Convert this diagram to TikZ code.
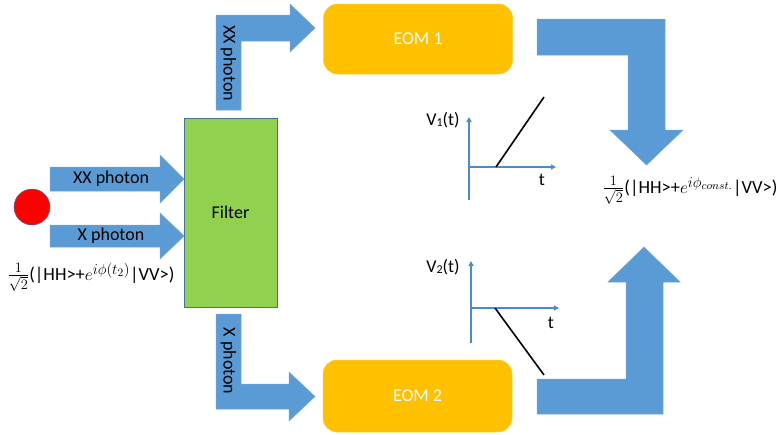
\documentclass[tikz,border=0pt]{standalone}
\usepackage{fontspec}
\setmainfont{Carlito}
\usetikzlibrary{arrows.meta}
\definecolor{arrowblue}{HTML}{5B9BD5}
\definecolor{edgeblue}{HTML}{6FA6DA}
\definecolor{axisblue}{HTML}{4A8BCB}
\definecolor{filtergreen}{HTML}{92D050}
\definecolor{eomorange}{HTML}{FFC000}
\definecolor{outline}{HTML}{41719C}
\newcommand{\supbig}[1]{\scalebox{1.25}{$\scriptstyle #1$}}
\newcommand{\fracbig}{\scalebox{1.2}{$\frac{1}{\sqrt{2}}$}}
\tikzset{
  blockarrow/.style={fill=arrowblue, draw=edgeblue, line width=0.5pt},
  eombox/.style={fill=eomorange, draw=eomorange!80!white, line width=0.5pt, rounded corners=14pt,
    minimum width=189pt, minimum height=70pt, text=white, font=\fontsize{18}{21}\selectfont},
  filterbox/.style={fill=filtergreen, draw=outline, line width=0.6pt, minimum width=93pt,
    minimum height=189pt, font=\fontsize{18}{21}\selectfont},
  lbl/.style={font=\fontsize{18}{21}\selectfont, inner sep=0pt},
  formula/.style={font=\fontsize{18.5}{22}\selectfont, inner sep=0pt},
  axis/.style={draw=axisblue, line width=1.4pt, -{Triangle[length=5pt,width=5pt]}},
  ramp/.style={draw=black, line width=1.6pt}
}
\begin{document}
\begin{tikzpicture}[x=1pt, y=-1pt]
\useasboundingbox (0,0) rectangle (776,434);

% source
\node[circle, fill=red, draw=outline, line width=0.5pt, minimum size=36pt, inner sep=0pt] (src) at (32,207) {};

% input arrows
\draw[blockarrow] (50,167) -- (160,167) -- (160,155) -- (184,179) -- (160,203) -- (160,191) -- (50,191) -- cycle;
\draw[blockarrow] (50,225) -- (160,225) -- (160,213) -- (184,236) -- (160,259) -- (160,247) -- (50,247) -- cycle;
\node[lbl] (xxin) at (111,179) {XX photon};
\node[lbl] (xin) at (111,236) {X photon};

% filter
\node[filterbox] (filter) at (230.5,212.5) {Filter};

% bent arrows from filter
\draw[blockarrow] (216,110) -- (216,15) -- (290,15) -- (290,4) -- (315,28) -- (290,52) -- (290,41) -- (241,41) -- (241,110) -- cycle;
\draw[blockarrow] (216,314) -- (216,409) -- (289,409) -- (289,421) -- (315,396.5) -- (289,372) -- (289,384) -- (241,384) -- (241,314) -- cycle;
\node[lbl, rotate=-90] (xxup) at (228.5,63) {XX photon};
\node[lbl, rotate=-90] (xdown) at (228.5,361) {X photon};

% EOMs
\node[eombox] (eom1) at (418,39) {EOM 1};
\node[eombox, minimum height=72pt] (eom2) at (417.5,396) {EOM 2};

% output arrows
\draw[blockarrow] (537,19) -- (665,19) -- (665,130) -- (683,130) -- (646.5,165) -- (610,130) -- (628,130) -- (628,55) -- (537,55) -- cycle;
\draw[blockarrow] (537,414) -- (663,414) -- (663,282) -- (680,282) -- (644,247) -- (608,282) -- (626,282) -- (626,379) -- (537,379) -- cycle;

% graph V1
\coordinate (o1) at (469,167);
\coordinate (y1b) at (469,200);
\coordinate (y1t) at (469,117);
\coordinate (x1r) at (556,167);
\coordinate (r1a) at (496,167);
\coordinate (r1b) at (544,97);
\draw[axis] (y1b) -- (y1t);
\draw[axis] (o1) -- (x1r);
\draw[ramp] (r1a) -- (r1b);
\node[lbl] (v1) at (443,120) {V\raisebox{-0.12ex}{\fontsize{12}{14}\selectfont 1}(t)};
\node[lbl] (t1) at (542,180) {t};

% graph V2
\coordinate (o2) at (471,308);
\coordinate (y2b) at (471,343);
\coordinate (y2t) at (471,261);
\coordinate (x2r) at (559,308);
\coordinate (r2a) at (495,308);
\coordinate (r2b) at (544,375);
\draw[axis] (y2b) -- (y2t);
\draw[axis] (o2) -- (x2r);
\draw[ramp] (r2a) -- (r2b);
\node[lbl] (v2) at (443,267) {V\raisebox{-0.12ex}{\fontsize{12}{14}\selectfont 2}(t)};
\node[lbl] (t2) at (551,323) {t};

% formulas
\node[formula] (inState) at (91,277) {\fracbig(|HH>+$e^{\supbig{i\phi(t_2)}}$|VV>)};
\node[formula] (outState) at (690,190) {\fracbig(|HH>+$e^{\supbig{i\phi_{const.}}}$|VV>)};
\end{tikzpicture}
\end{document}
